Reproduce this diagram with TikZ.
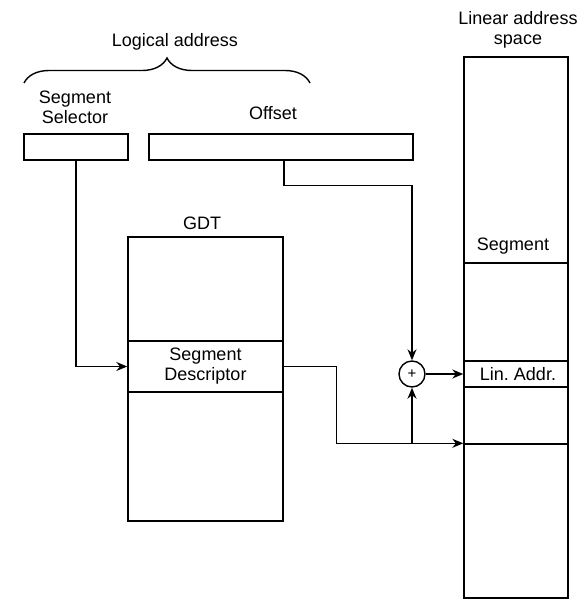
\documentclass[tikz,border=0pt]{standalone}
\usepackage{fontspec}
\setmainfont{Liberation Sans}
\usetikzlibrary{arrows.meta,decorations.pathreplacing}
\begin{document}
\frenchspacing
\begin{tikzpicture}[x=1pt,y=-1pt,
  every node/.style={font=\fontsize{18}{20}\selectfont},
  box/.style={draw,line width=1.4pt,rectangle,inner sep=0pt,minimum width=#1},
  txt/.style={align=center,inner sep=0pt},
  arr/.style={line width=1.4pt,-{Stealth[length=11pt,width=9pt]}},
  ln/.style={line width=1.4pt}]
\useasboundingbox (0,0) rectangle (584,608);
% logical address
\node[txt] (lal) at (175,42) {Logical address};
\coordinate (bl) at (24,83);
\coordinate (br) at (310,83);
\draw[ln,decorate,decoration={brace,amplitude=25pt}] (bl) -- (br);
\node[txt] (sst) at (75,107) {Segment\\Selector};
\node[txt] (oft) at (273,113) {Offset};
\node[box=104pt,minimum height=26pt] (sel) at (76,147) {};
\node[box=264pt,minimum height=26pt] (off) at (281,147) {};
% GDT
\node[txt] (gdtl) at (202,223) {GDT};
\node[box=155pt,minimum height=104pt] (g1) at (205.5,289) {};
\node[box=155pt,minimum height=51pt,align=center] (desc) at (205.5,366.5) {Segment\\Descriptor};
\node[box=155pt,minimum height=129pt] (g3) at (205.5,456.5) {};
% linear address space
\node[txt] (lasl) at (518,30) {Linear address\\space};
\node[box=104pt,minimum height=206pt] (l1) at (516,160) {};
\node[txt] (segt) at (513,246) {Segment};
\node[box=104pt,minimum height=98pt] (l2) at (516,312) {};
\node[box=104pt,minimum height=26pt] (l3) at (516,374) {\hspace{4pt}Lin. Addr.};
\node[box=104pt,minimum height=57pt] (l4) at (516,415.5) {};
\node[box=104pt,minimum height=154pt] (l5) at (516,521) {};
% adder
\node[draw,circle,line width=1.4pt,minimum size=26pt,inner sep=0pt,font=\fontsize{15}{16}\selectfont] (plus) at (412,374) {+};
% connectors
\draw[arr] (sel.south) |- (desc.west);
\draw[arr] ([xshift=3pt]off.south) -- ++(0,25) -| (plus.north);
\draw[arr] (desc.east) -- ++(53,0) |- (l5.north west);
\draw[arr] (plus.south |- l5.north west) -- (plus.south);
\draw[arr] (plus.east) -- (l3.west);
\end{tikzpicture}
\end{document}
